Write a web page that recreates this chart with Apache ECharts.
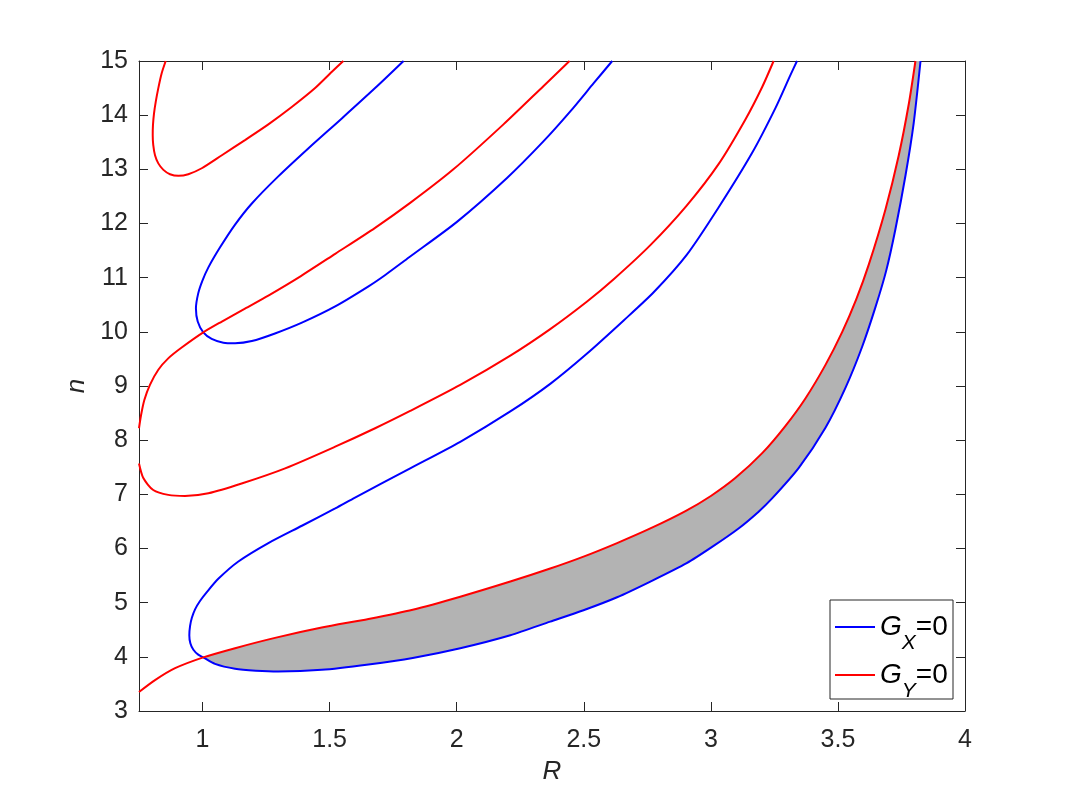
<!DOCTYPE html>
<html>
<head>
<meta charset="utf-8" />
<title>G_X = 0 and G_Y = 0</title>
<script src="https://cdn.jsdelivr.net/npm/echarts@6.0.0/dist/echarts.min.js"></script>
<style>
  html, body { margin: 0; padding: 0; background: #fff; }
  #chart { width: 1067px; height: 800px; }
</style>
</head>
<body>
<div id="chart"></div>
<script>
// axis ranges and ticks
const xTicks = [1, 1.5, 2, 2.5, 3, 3.5, 4]
const xRange = [0.75, 4]
const yRange = [3, 15]

// G_Y = 0 (red) curves, [R, n] along each curve
const gyTopLoop = [
  [0.855, 15], [0.839, 14.77], [0.826, 14.5], [0.816, 14.25], [0.809, 14.03],
  [0.805, 13.82], [0.804, 13.63], [0.806, 13.45], [0.813, 13.26], [0.826, 13.11],
  [0.846, 12.99], [0.872, 12.91], [0.905, 12.88], [0.944, 12.91], [0.997, 13.02],
  [1.076, 13.26], [1.167, 13.54], [1.259, 13.83], [1.351, 14.15], [1.443, 14.5],
  [1.509, 14.8], [1.554, 15]
]
const gyUpper = [
  [0.75, 8.22], [0.758, 8.46], [0.771, 8.74], [0.793, 9.02], [0.826, 9.3],
  [0.865, 9.51], [0.918, 9.71], [1.003, 9.99], [1.076, 10.19], [1.167, 10.43],
  [1.259, 10.67], [1.387, 11.03], [1.522, 11.44], [1.679, 11.92], [1.817, 12.38],
  [1.987, 13.0], [2.184, 13.83], [2.342, 14.54], [2.444, 15]
]
const gyMiddle = [
  [0.75, 7.57], [0.767, 7.3], [0.806, 7.08], [0.865, 6.99], [0.931, 6.97],
  [1.023, 7.02], [1.154, 7.2], [1.325, 7.48], [1.522, 7.88], [1.679, 8.22],
  [1.817, 8.54], [2.014, 9.02], [2.211, 9.56], [2.368, 10.05], [2.513, 10.56],
  [2.62, 10.98], [2.762, 11.6], [2.905, 12.33], [3.031, 13.1], [3.136, 13.92],
  [3.202, 14.52], [3.247, 15]
]
const gyLower = [
  [0.75, 3.35], [0.813, 3.57], [0.892, 3.79], [1.003, 3.99], [1.128, 4.16],
  [1.285, 4.35], [1.469, 4.54], [1.653, 4.7], [1.827, 4.87], [2.014, 5.11],
  [2.211, 5.39], [2.368, 5.63], [2.499, 5.85], [2.631, 6.1], [2.762, 6.37],
  [2.9, 6.69], [3.0, 6.97], [3.096, 7.3], [3.202, 7.76], [3.293, 8.26],
  [3.372, 8.77], [3.451, 9.39], [3.517, 10.0], [3.572, 10.6], [3.622, 11.25],
  [3.687, 12.26], [3.739, 13.25], [3.779, 14.21], [3.805, 15]
]

// G_X = 0 (blue) curves
const gxLoop = [
  [1.791, 15], [1.679, 14.5], [1.548, 13.94], [1.417, 13.39], [1.298, 12.87],
  [1.194, 12.37], [1.128, 11.98], [1.069, 11.56], [1.023, 11.19], [1.0, 10.95],
  [0.983, 10.71], [0.974, 10.43], [0.981, 10.19], [1.003, 9.99], [1.036, 9.87],
  [1.082, 9.8], [1.128, 9.79], [1.194, 9.83], [1.285, 9.97], [1.391, 10.17],
  [1.522, 10.47], [1.653, 10.84], [1.719, 11.05], [1.817, 11.39], [2.001, 12.03],
  [2.198, 12.84], [2.342, 13.52], [2.447, 14.07], [2.539, 14.59], [2.612, 15]
]
// outer blue curve: upper branch and lower branch, both from the nose
const gxOuterTop = [
  [0.948, 4.4], [0.951, 4.57], [0.958, 4.72], [0.971, 4.88], [0.99, 5.03],
  [1.016, 5.19], [1.062, 5.44], [1.141, 5.76], [1.259, 6.1], [1.391, 6.42],
  [1.522, 6.74], [1.6, 6.94], [1.817, 7.48], [2.014, 7.97], [2.211, 8.53],
  [2.368, 9.04], [2.513, 9.6], [2.657, 10.21], [2.775, 10.73], [2.905, 11.42],
  [3.031, 12.3], [3.162, 13.3], [3.254, 14.13], [3.313, 14.74], [3.339, 15]
]
const gxOuterBottom = [
  [0.948, 4.4], [0.952, 4.25], [0.964, 4.13], [0.983, 4.04], [1.003, 3.99],
  [1.049, 3.87], [1.128, 3.78], [1.21, 3.745], [1.298, 3.73], [1.469, 3.76],
  [1.653, 3.86], [1.827, 3.98], [2.014, 4.16], [2.211, 4.4], [2.368, 4.65],
  [2.499, 4.86], [2.631, 5.1], [2.762, 5.39], [2.905, 5.73], [3.005, 6.03],
  [3.109, 6.37], [3.188, 6.68], [3.24, 6.92], [3.346, 7.49], [3.451, 8.23],
  [3.53, 8.97], [3.595, 9.72], [3.648, 10.46], [3.69, 11.13], [3.726, 11.89],
  [3.766, 12.89], [3.798, 13.85], [3.825, 15]
]

// the two curves cross here; the grey band starts at this R
const crossR = 1.003

const font = '"Liberation Sans", Arial, sans-serif'
const axisColor = '#262626'

const gxOuter = gxOuterTop.slice().reverse().concat(gxOuterBottom.slice(1))
const bandPoints = gyLower.filter(p => p[0] >= crossR)
  .concat(gxOuterBottom.filter(p => p[0] >= crossR).reverse())

const lineSeries = (name, data, color) => ({
  name,
  type: 'line',
  data,
  symbol: 'none',
  smooth: 0.25,
  z: 3,
  lineStyle: { color, width: 2 },
  itemStyle: { color },
  emphasis: { disabled: true }
})

const boxAxis = extra => Object.assign({
  type: 'value',
  axisLine: { show: true, onZero: false, lineStyle: { color: axisColor, width: 1 } },
  axisTick: { show: true, inside: true, length: 9, lineStyle: { color: axisColor } },
  splitLine: { show: false }
}, extra)

const chart = echarts.init(document.getElementById('chart'))
chart.setOption({
  animation: false,
  grid: { left: 139, right: 102, top: 61, bottom: 89, outerBoundsMode: 'none' },
  xAxis: [
    boxAxis({
      min: xRange[0],
      max: xRange[1],
      name: 'R',
      nameLocation: 'middle',
      nameGap: 48,
      nameTextStyle: { fontFamily: font, fontSize: 26, fontStyle: 'italic', color: axisColor },
      axisTick: { show: true, inside: true, length: 9, customValues: xTicks, lineStyle: { color: axisColor } },
      axisLabel: { customValues: xTicks, margin: 17, fontFamily: font, fontSize: 25, color: axisColor }
    }),
    boxAxis({
      position: 'top',
      min: xRange[0],
      max: xRange[1],
      axisTick: { show: true, inside: true, length: 9, customValues: xTicks, lineStyle: { color: axisColor } },
      axisLabel: { show: false }
    })
  ],
  yAxis: [
    boxAxis({
      min: yRange[0],
      max: yRange[1],
      interval: 1,
      name: 'n',
      nameLocation: 'middle',
      nameGap: 35,
      nameRotate: 90,
      nameTextStyle: { fontFamily: font, fontSize: 26, fontStyle: 'italic', color: axisColor },
      axisLabel: { margin: 11, fontFamily: font, fontSize: 25, color: axisColor }
    }),
    boxAxis({
      position: 'right',
      min: yRange[0],
      max: yRange[1],
      interval: 1,
      axisLabel: { show: false }
    })
  ],
  graphic: [
    {
      type: 'rect',
      z: 4,
      silent: true,
      shape: { x: 830, y: 600, width: 123, height: 99 },
      style: { fill: '#fff', stroke: axisColor, lineWidth: 1 }
    }
  ],
  legend: {
    data: ['GX', 'GY'],
    z: 5,
    orient: 'vertical',
    left: 835,
    top: 600,
    padding: 0,
    itemGap: -6,
    itemWidth: 40,
    itemHeight: 2,
    icon: 'rect',
    selectedMode: false,
    formatter: name => (name === 'GX' ? '{g|G}{s|X}{e|=0}' : '{g|G}{s|Y}{e|=0}'),
    textStyle: {
      rich: {
        g: { fontFamily: font, fontSize: 28, fontStyle: 'italic', color: '#000', lineHeight: 34 },
        s: { fontFamily: font, fontSize: 21, fontStyle: 'italic', color: '#000', lineHeight: 34, padding: [33, 0, 0, 0] },
        e: { fontFamily: font, fontSize: 28, color: '#000', lineHeight: 34 }
      }
    }
  },
  series: [
    {
      name: 'band',
      type: 'custom',
      z: 1,
      silent: true,
      data: [bandPoints[0]],
      renderItem: (params, api) => ({
        type: 'polygon',
        shape: { points: bandPoints.map(p => api.coord(p)) },
        style: { fill: '#b3b3b3' }
      })
    },
    lineSeries('GX', gxLoop, '#0000ff'),
    lineSeries('GX', gxOuter, '#0000ff'),
    lineSeries('GY', gyTopLoop, '#ff0000'),
    lineSeries('GY', gyUpper, '#ff0000'),
    lineSeries('GY', gyMiddle, '#ff0000'),
    lineSeries('GY', gyLower, '#ff0000')
  ]
})
</script>
</body>
</html>
